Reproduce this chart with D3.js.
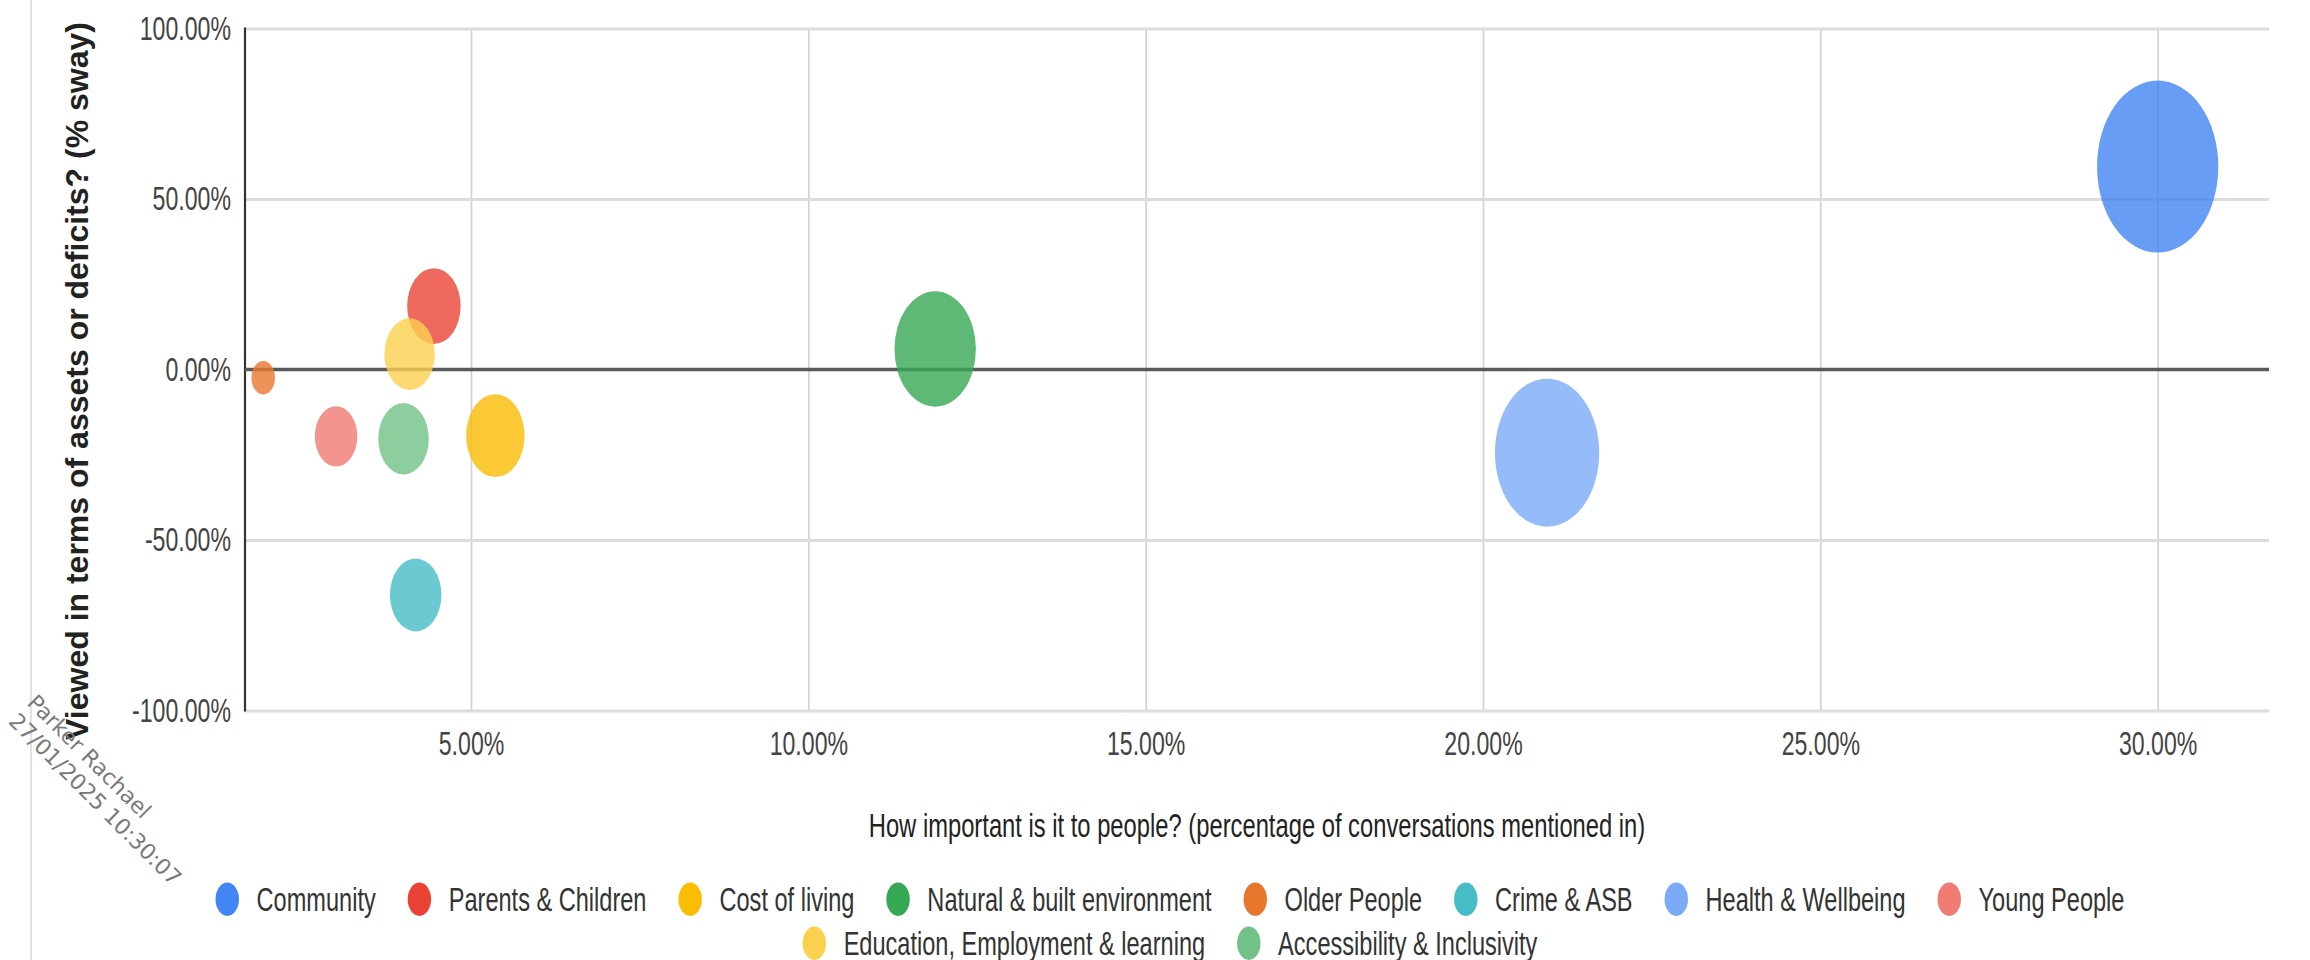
<!DOCTYPE html>
<html>
<head>
<meta charset="utf-8">
<script src="https://cdn.jsdelivr.net/npm/d3@7"></script>
<style>
  html, body { margin: 0; padding: 0; background: #fff; overflow: hidden; }
  svg { display: block; }
</style>
</head>
<body>
<svg id="chart" width="2310" height="960"></svg>
<script>
// Topics raised in conversations
const categories = [
  "Community", "Parents & Children", "Cost of living", "Natural & built environment",
  "Older People", "Crime & ASB", "Health & Wellbeing", "Young People",
  "Education, Employment & learning", "Accessibility & Inclusivity"
];
// x: share of conversations the topic was mentioned in (%)
const importance = [30.0, 4.45, 5.36, 11.88, 1.92, 4.18, 20.95, 3.0, 4.09, 4.0];
// y: sway between assets (+) and deficits (-) (%)
const sway = [59.5, 18.6, -19.4, 6.0, -2.4, -66.1, -24.4, -19.6, 4.5, -20.3];
// bubble size value
const bubbleSize = [100, 32, 37, 60, 2, 30, 83, 21, 29, 29];
const palette = ["#4285F4", "#EA4335", "#FBBC04", "#34A853", "#E8772E",
                 "#46BDC6", "#7BAAF7", "#F07B72", "#FCD04F", "#71C287"];
const xTicks = [5, 10, 15, 20, 25, 30];
const yTicks = [-100, -50, 0, 50, 100];
const xTitle = "How important is it to people? (percentage of conversations mentioned in)";
const yTitle = "Viewed in terms of assets or deficits? (% sway)";
const stampLines = ["Parker Rachael", "27/01/2025 10:30:07"];

const SX = 0.68;        // horizontal squeeze of the chart lettering
const ASPECT = 0.705;   // bubble width / height
const FONT = "'Liberation Sans', Arial, sans-serif";

const svg = d3.select("#chart");
const plot = { left: 245, right: 2269, top: 28.5, bottom: 710.5 };

const x = d3.scaleLinear().domain([1.65, 31.65]).range([plot.left, plot.right]);
const y = d3.scaleLinear().domain([-100, 100]).range([plot.bottom, plot.top]);
const r = d3.scaleLinear().domain(d3.extent(bubbleSize)).range([16.7, 86]);
const pct = v => d3.format(".2f")(v).replace("\u2212", "-") + "%";

// thin frame line along the left edge
svg.append("line").attr("x1", 31).attr("x2", 31).attr("y1", 0).attr("y2", 960)
  .attr("stroke", "#e2e2e2").attr("stroke-width", 2);

// vertical gridlines
svg.append("g").attr("transform", `translate(0,${plot.bottom})`)
  .call(d3.axisBottom(x).tickValues(xTicks).tickSize(-(plot.bottom - plot.top)).tickFormat(""))
  .call(g => g.select(".domain").remove())
  .call(g => g.selectAll("line").attr("stroke", "#d0d0d0").attr("stroke-width", 1.6));

// horizontal gridlines
svg.append("g").attr("transform", `translate(${plot.left},0)`)
  .call(d3.axisLeft(y).tickValues(yTicks.filter(v => v !== 0)).tickSize(-(plot.right - plot.left)).tickFormat(""))
  .call(g => g.select(".domain").remove())
  .call(g => g.selectAll("line").attr("stroke", "#dcdcdc").attr("stroke-width", 3));

// left axis line
svg.append("line").attr("x1", plot.left).attr("x2", plot.left)
  .attr("y1", plot.top - 1).attr("y2", plot.bottom + 1)
  .attr("stroke", "#333").attr("stroke-width", 2.2);

// baseline at 0%
svg.append("line").attr("x1", plot.left).attr("x2", plot.right)
  .attr("y1", y(0)).attr("y2", y(0))
  .attr("stroke", "#5a5a5a").attr("stroke-width", 3.5);

// y tick labels
svg.append("g").attr("transform", `translate(231,0)`)
  .call(d3.axisLeft(y).tickValues(yTicks).tickSize(0).tickPadding(0).tickFormat(pct))
  .call(g => g.select(".domain").remove())
  .call(g => g.selectAll("text")
    .attr("x", null).attr("dy", null)
    .attr("transform", `translate(0,10.5) scale(${SX},1)`)
    .attr("fill", "#444").attr("font-size", 34).attr("font-family", FONT)
    .attr("text-anchor", "end"));

// x tick labels
svg.append("g").attr("transform", `translate(0,755)`)
  .call(d3.axisBottom(x).tickValues(xTicks).tickSize(0).tickPadding(0).tickFormat(pct))
  .call(g => g.select(".domain").remove())
  .call(g => g.selectAll("text")
    .attr("y", null).attr("dy", null)
    .attr("transform", `scale(${SX},1)`)
    .attr("fill", "#444").attr("font-size", 34).attr("font-family", FONT)
    .attr("text-anchor", "middle"));

// bubbles, largest first so smaller ones stay on top
const data = categories.map((c, i) => ({
  name: c, x: importance[i], y: sway[i], s: bubbleSize[i], color: palette[i]
})).sort((a, b) => b.s - a.s);

svg.append("g").selectAll("ellipse").data(data).join("ellipse")
  .attr("cx", d => x(d.x)).attr("cy", d => y(d.y))
  .attr("rx", d => r(d.s) * ASPECT).attr("ry", d => r(d.s))
  .attr("fill", d => d.color).attr("fill-opacity", 0.8);

// axis titles
svg.append("text")
  .attr("transform", `translate(${(plot.left + plot.right) / 2},837) scale(0.72,1)`)
  .attr("text-anchor", "middle").attr("font-family", FONT).attr("font-size", 33)
  .attr("fill", "#222").text(xTitle);

svg.append("text")
  .attr("transform", `translate(88,381) rotate(-90)`)
  .attr("text-anchor", "middle").attr("font-family", FONT).attr("font-size", 32)
  .attr("font-weight", "bold").attr("fill", "#222").text(yTitle);

// legend, two centred rows
const legendRows = [d3.range(0, 8), d3.range(8, 10)];
const rowY = [899.3, 943.3];
const LSX = 0.693;
const legendCenter = 1170, gap = 32, dotRx = 11.7, dotRy = 16.7, textOffset = 41;
const legend = svg.append("g");
legendRows.forEach((idxs, ri) => {
  const items = idxs.map(i => {
    const g = legend.append("g");
    g.append("ellipse").attr("rx", dotRx).attr("ry", dotRy).attr("fill", palette[i]);
    const t = g.append("text").attr("font-family", FONT).attr("font-size", 34)
      .attr("fill", "#333").text(categories[i]);
    const w = t.node().getComputedTextLength() * LSX;
    return { g, t, w };
  });
  const total = d3.sum(items, d => textOffset + d.w) + gap * (items.length - 1);
  let x0 = legendCenter - total / 2;
  items.forEach(it => {
    it.g.select("ellipse").attr("cx", x0 + dotRx).attr("cy", rowY[ri]);
    it.t.attr("transform", `translate(${x0 + textOffset},${rowY[ri] + 11.7}) scale(${LSX},1)`);
    x0 += textOffset + it.w + gap;
  });
});

// diagonal name/date stamp
const stamp = svg.append("g").attr("transform", "translate(26,704) rotate(45)");
stamp.selectAll("text").data(stampLines).join("text")
  .attr("x", 0).attr("y", (d, i) => i * 26)
  .attr("font-family", "'DejaVu Sans', sans-serif").attr("font-size", 22)
  .attr("fill", "#7a7a7a").text(d => d);
</script>
</body>
</html>
